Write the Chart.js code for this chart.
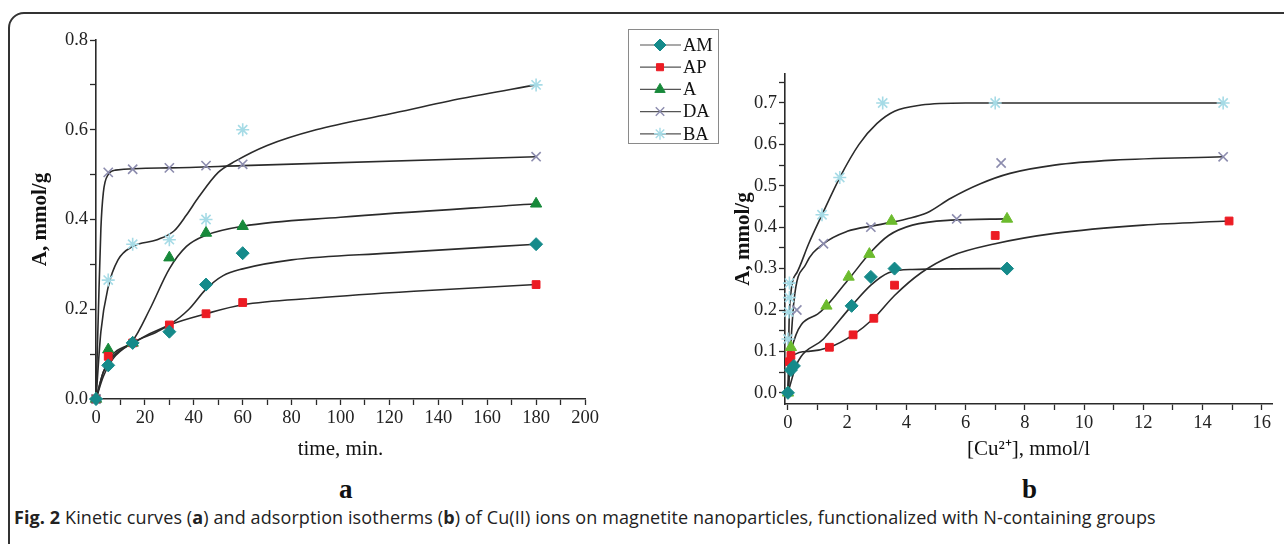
<!DOCTYPE html>
<html>
<head>
<meta charset="utf-8">
<script src="https://cdn.jsdelivr.net/npm/chart.js@4.4.1/dist/chart.umd.min.js"></script>
<style>
  body { margin: 0; background: #fff; width: 1284px; height: 544px; overflow: hidden; position: relative; }
  #frame { position: absolute; left: 8px; top: 12px; width: 1300px; height: 560px; border: 2px solid #333; border-radius: 16px; }
  canvas { position: absolute; top: 0; }
  .panel { position: absolute; font: bold 27px "Liberation Serif", serif; color: #111; }
  #caption { position: absolute; left: 14px; top: 505px; font: 18px "Open Sans", sans-serif; color: #222; white-space: nowrap; letter-spacing: 0.1px; }
</style>
</head>
<body>
<div id="frame"></div>
<canvas id="kinetic" width="725" height="470" style="left:0"></canvas>
<canvas id="isotherm" width="559" height="470" style="left:725px"></canvas>
<div class="panel" style="left:339px;top:474px">a</div>
<div class="panel" style="left:1022px;top:474px">b</div>
<div id="caption"><b>Fig. 2</b> Kinetic curves (<b>a</b>) and adsorption isotherms (<b>b</b>) of Cu(II) ions on magnetite nanoparticles, functionalized with N-containing groups</div>
<script>
// series names / colours / markers
const seriesNames = ['AM', 'AP', 'A', 'DA', 'BA'];
const seriesColors = ['#158a8a', '#ec1c24', '#17893a', '#8c8cae', '#a6dbe6'];
const seriesColorsIso = ['#158a8a', '#ec1c24', '#6cbb2e', '#8c8cae', '#a6dbe6'];
const seriesMarkers = ['rectRot', 'rect', 'triangle', 'crossRot', 'star'];

// (a) kinetic data: time, min
const kinTime = [0, 5, 15, 30, 45, 60, 180];
const kinAM = [0, 0.075, 0.125, 0.15, 0.255, 0.325, 0.345];
const kinAP = [0, 0.095, 0.125, 0.165, 0.19, 0.215, 0.255];
const kinA  = [0, 0.11, 0.125, 0.315, 0.37, 0.385, 0.435];
const kinDA = [0, 0.505, 0.512, 0.515, 0.52, 0.523, 0.54];
const kinBA = [0, 0.265, 0.345, 0.355, 0.40, 0.60, 0.70];

// (a) fitted curves [time, A]
const kinCurveAM = [[0,0],[3,0.05],[7,0.09],[15,0.125],[25,0.15],[30,0.165],[38,0.2],[45,0.245],[52,0.275],[60,0.29],[80,0.31],[120,0.325],[180,0.345]];
const kinCurveAP = [[0,0],[3,0.06],[7,0.095],[15,0.125],[30,0.165],[45,0.19],[60,0.21],[90,0.225],[130,0.24],[180,0.255]];
const kinCurveA  = [[0,0],[3,0.06],[7,0.1],[15,0.13],[22,0.2],[30,0.29],[37,0.34],[45,0.365],[60,0.385],[100,0.405],[180,0.435]];
const kinCurveDA = [[0,0],[1,0.2],[2,0.38],[3,0.46],[5,0.5],[8,0.51],[30,0.515],[60,0.52],[180,0.54]];
const kinCurveBA = [[0,0],[2,0.15],[5,0.25],[9,0.31],[15,0.34],[25,0.355],[32,0.375],[37,0.41],[42,0.45],[50,0.505],[57,0.53],[70,0.565],[90,0.6],[120,0.635],[150,0.67],[180,0.70]];

// (b) isotherm data [Cu2+, A]
const isoAM = [[0,0],[0.1,0.055],[0.2,0.065],[2.15,0.21],[2.8,0.28],[3.6,0.30],[7.4,0.30]];
const isoAP = [[0.05,0.075],[0.1,0.09],[1.4,0.11],[2.2,0.14],[2.9,0.18],[3.6,0.26],[7.0,0.38],[14.9,0.415]];
const isoA  = [[0,0],[0.1,0.11],[1.3,0.21],[2.05,0.28],[2.75,0.335],[3.5,0.415],[7.4,0.42]];
const isoDA = [[0.3,0.2],[1.2,0.36],[2.8,0.40],[5.7,0.42],[7.2,0.555],[14.7,0.57]];
const isoBA = [[0,0.13],[0.03,0.195],[0.05,0.23],[0.05,0.265],[1.15,0.43],[1.75,0.52],[3.2,0.70],[7.0,0.70],[14.7,0.70]];

// (b) fitted curves
const isoCurveAM = [[0,0],[0.3,0.07],[1.2,0.13],[2.15,0.21],[2.8,0.26],[3.4,0.29],[4.2,0.298],[7.4,0.3]];
const isoCurveAP = [[0,0],[0.1,0.085],[0.7,0.1],[1.4,0.11],[2.2,0.14],[2.9,0.18],[3.6,0.235],[4.5,0.29],[5.5,0.33],[7,0.36],[9,0.385],[12,0.405],[14.9,0.415]];
const isoCurveA  = [[0,0],[0.1,0.1],[1,0.19],[2,0.27],[2.8,0.34],[3.4,0.38],[4.2,0.405],[5.5,0.417],[7.4,0.42]];
const isoCurveDA = [[0,0],[0.2,0.22],[0.6,0.31],[1.2,0.36],[2,0.39],[3,0.405],[4,0.42],[4.7,0.435],[5.5,0.47],[6.5,0.505],[7.5,0.53],[9,0.55],[11,0.562],[14.7,0.57]];
const isoCurveBA = [[0,0],[0.05,0.2],[0.3,0.29],[0.7,0.36],[1.15,0.43],[1.75,0.52],[2.4,0.6],[3,0.65],[3.6,0.68],[4.5,0.695],[6,0.7],[14.7,0.7]];

const serif = '"Liberation Serif", "Times New Roman", serif';
const axisColor = '#2a2a2a';

function toXY(pairs) {
  return pairs.map(p => ({ x: p[0], y: p[1] }));
}

function curveSet(pairs) {
  return {
    data: toXY(pairs), showLine: true, borderColor: '#2b2b2b', borderWidth: 1.6,
    pointRadius: 0, cubicInterpolationMode: 'monotone', order: 2
  };
}

function markerSet(idx, pairs, colors) {
  const style = seriesMarkers[idx];
  const lineMarker = style === 'crossRot' || style === 'star';
  return {
    label: seriesNames[idx], data: toXY(pairs), showLine: false,
    pointStyle: style, pointRadius: style === 'rect' ? 5.5 : 6.5,
    backgroundColor: colors[idx], borderColor: colors[idx],
    pointBorderWidth: lineMarker ? 1.6 : 1, order: 1
  };
}

function axis(min, max, step, labelEvery, decimals, size, title, titlePad, titleBold) {
  return {
    type: 'linear', min: min, max: max,
    afterFit: s => { if (s.isHorizontal()) s.height = size; else s.width = size; },
    border: { display: true, color: axisColor, width: 1.6 },
    grid: { drawOnChartArea: false, drawTicks: true, tickLength: 6, color: axisColor, tickWidth: 1.3 },
    ticks: {
      stepSize: step, autoSkip: false, includeBounds: false, padding: 2,
      maxRotation: 0, minRotation: 0,
      color: '#222', font: { family: serif, size: 18.5 },
      callback: v => {
        const k = Math.round(v / step);
        if (Math.abs(v - k * step) > 1e-6) return '';
        return (k % labelEvery === 0) ? v.toFixed(decimals) : '';
      }
    },
    title: {
      display: true, text: title, color: '#111',
      font: { family: serif, size: 21, weight: titleBold ? 'bold' : 'normal' }, padding: titlePad
    }
  };
}

// legend box between the two panels
const legendBox = {
  id: 'legendBox',
  afterDraw(chart) {
    const ctx = chart.ctx;
    ctx.save();
    ctx.strokeStyle = '#8a8a8a';
    ctx.lineWidth = 1;
    ctx.strokeRect(628.5, 29.5, 90, 114);
    ctx.font = '18.5px ' + serif;
    ctx.textBaseline = 'middle';
    seriesNames.forEach((name, i) => {
      const y = 45 + i * 22.2;
      ctx.strokeStyle = '#555';
      ctx.lineWidth = 1.2;
      ctx.beginPath(); ctx.moveTo(640, y); ctx.lineTo(681, y); ctx.stroke();
      const style = seriesMarkers[i];
      ctx.fillStyle = seriesColors[i];
      ctx.strokeStyle = seriesColors[i];
      ctx.lineWidth = (style === 'crossRot' || style === 'star') ? 1.4 : 1;
      Chart.helpers.drawPoint(ctx, { pointStyle: style, radius: style === 'rect' ? 5 : 6, rotation: 0, borderWidth: ctx.lineWidth }, 660, y);
      ctx.fillStyle = '#111';
      ctx.fillText(name, 683, y + 1);
    });
    ctx.restore();
  }
};

const kinNames = [kinAM, kinAP, kinA, kinDA, kinBA];
const kinCurves = [kinCurveAM, kinCurveAP, kinCurveA, kinCurveDA, kinCurveBA];

new Chart(document.getElementById('kinetic'), {
  type: 'scatter',
  data: {
    datasets: [
      ...kinCurves.map(c => curveSet(c)),
      ...kinNames.map((vals, i) => markerSet(i, kinTime.map((t, j) => [t, vals[j]]), seriesColors))
    ]
  },
  options: {
    responsive: false, animation: false, devicePixelRatio: 1, clip: false,
    layout: { padding: { left: 0, top: 40, right: 140, bottom: 0 } },
    plugins: { legend: { display: false }, tooltip: { enabled: false } },
    scales: {
      x: axis(0, 200, 10, 2, 0, 71, 'time, min.', { top: 6, bottom: 8 }, false),
      y: axis(0, 0.8, 0.1, 2, 1, 96, 'A, mmol/g', { top: 28, bottom: 4 }, true)
    }
  },
  plugins: [legendBox]
});

const isoSets = [isoAM, isoAP, isoA, isoDA, isoBA];
const isoCurves = [isoCurveAM, isoCurveAP, isoCurveA, isoCurveDA, isoCurveBA];

new Chart(document.getElementById('isotherm'), {
  type: 'scatter',
  data: {
    datasets: [
      ...isoCurves.map(c => curveSet(c)),
      ...isoSets.map((pairs, i) => markerSet(i, pairs, seriesColorsIso))
    ]
  },
  options: {
    responsive: false, animation: false, devicePixelRatio: 1, clip: false,
    layout: { padding: { left: 0, top: 74, right: 12, bottom: 0 } },
    plugins: { legend: { display: false }, tooltip: { enabled: false } },
    scales: {
      x: axis(-0.1, 16.35, 1, 2, 0, 66, '[Cu\u00B2\u207A], mmol/l', { top: 6, bottom: 8 }, false),
      y: axis(-0.027, 0.77, 0.05, 2, 1, 60, 'A, mmol/g', { top: 6, bottom: 4 }, true)
    }
  }
});
</script>
</body>
</html>
